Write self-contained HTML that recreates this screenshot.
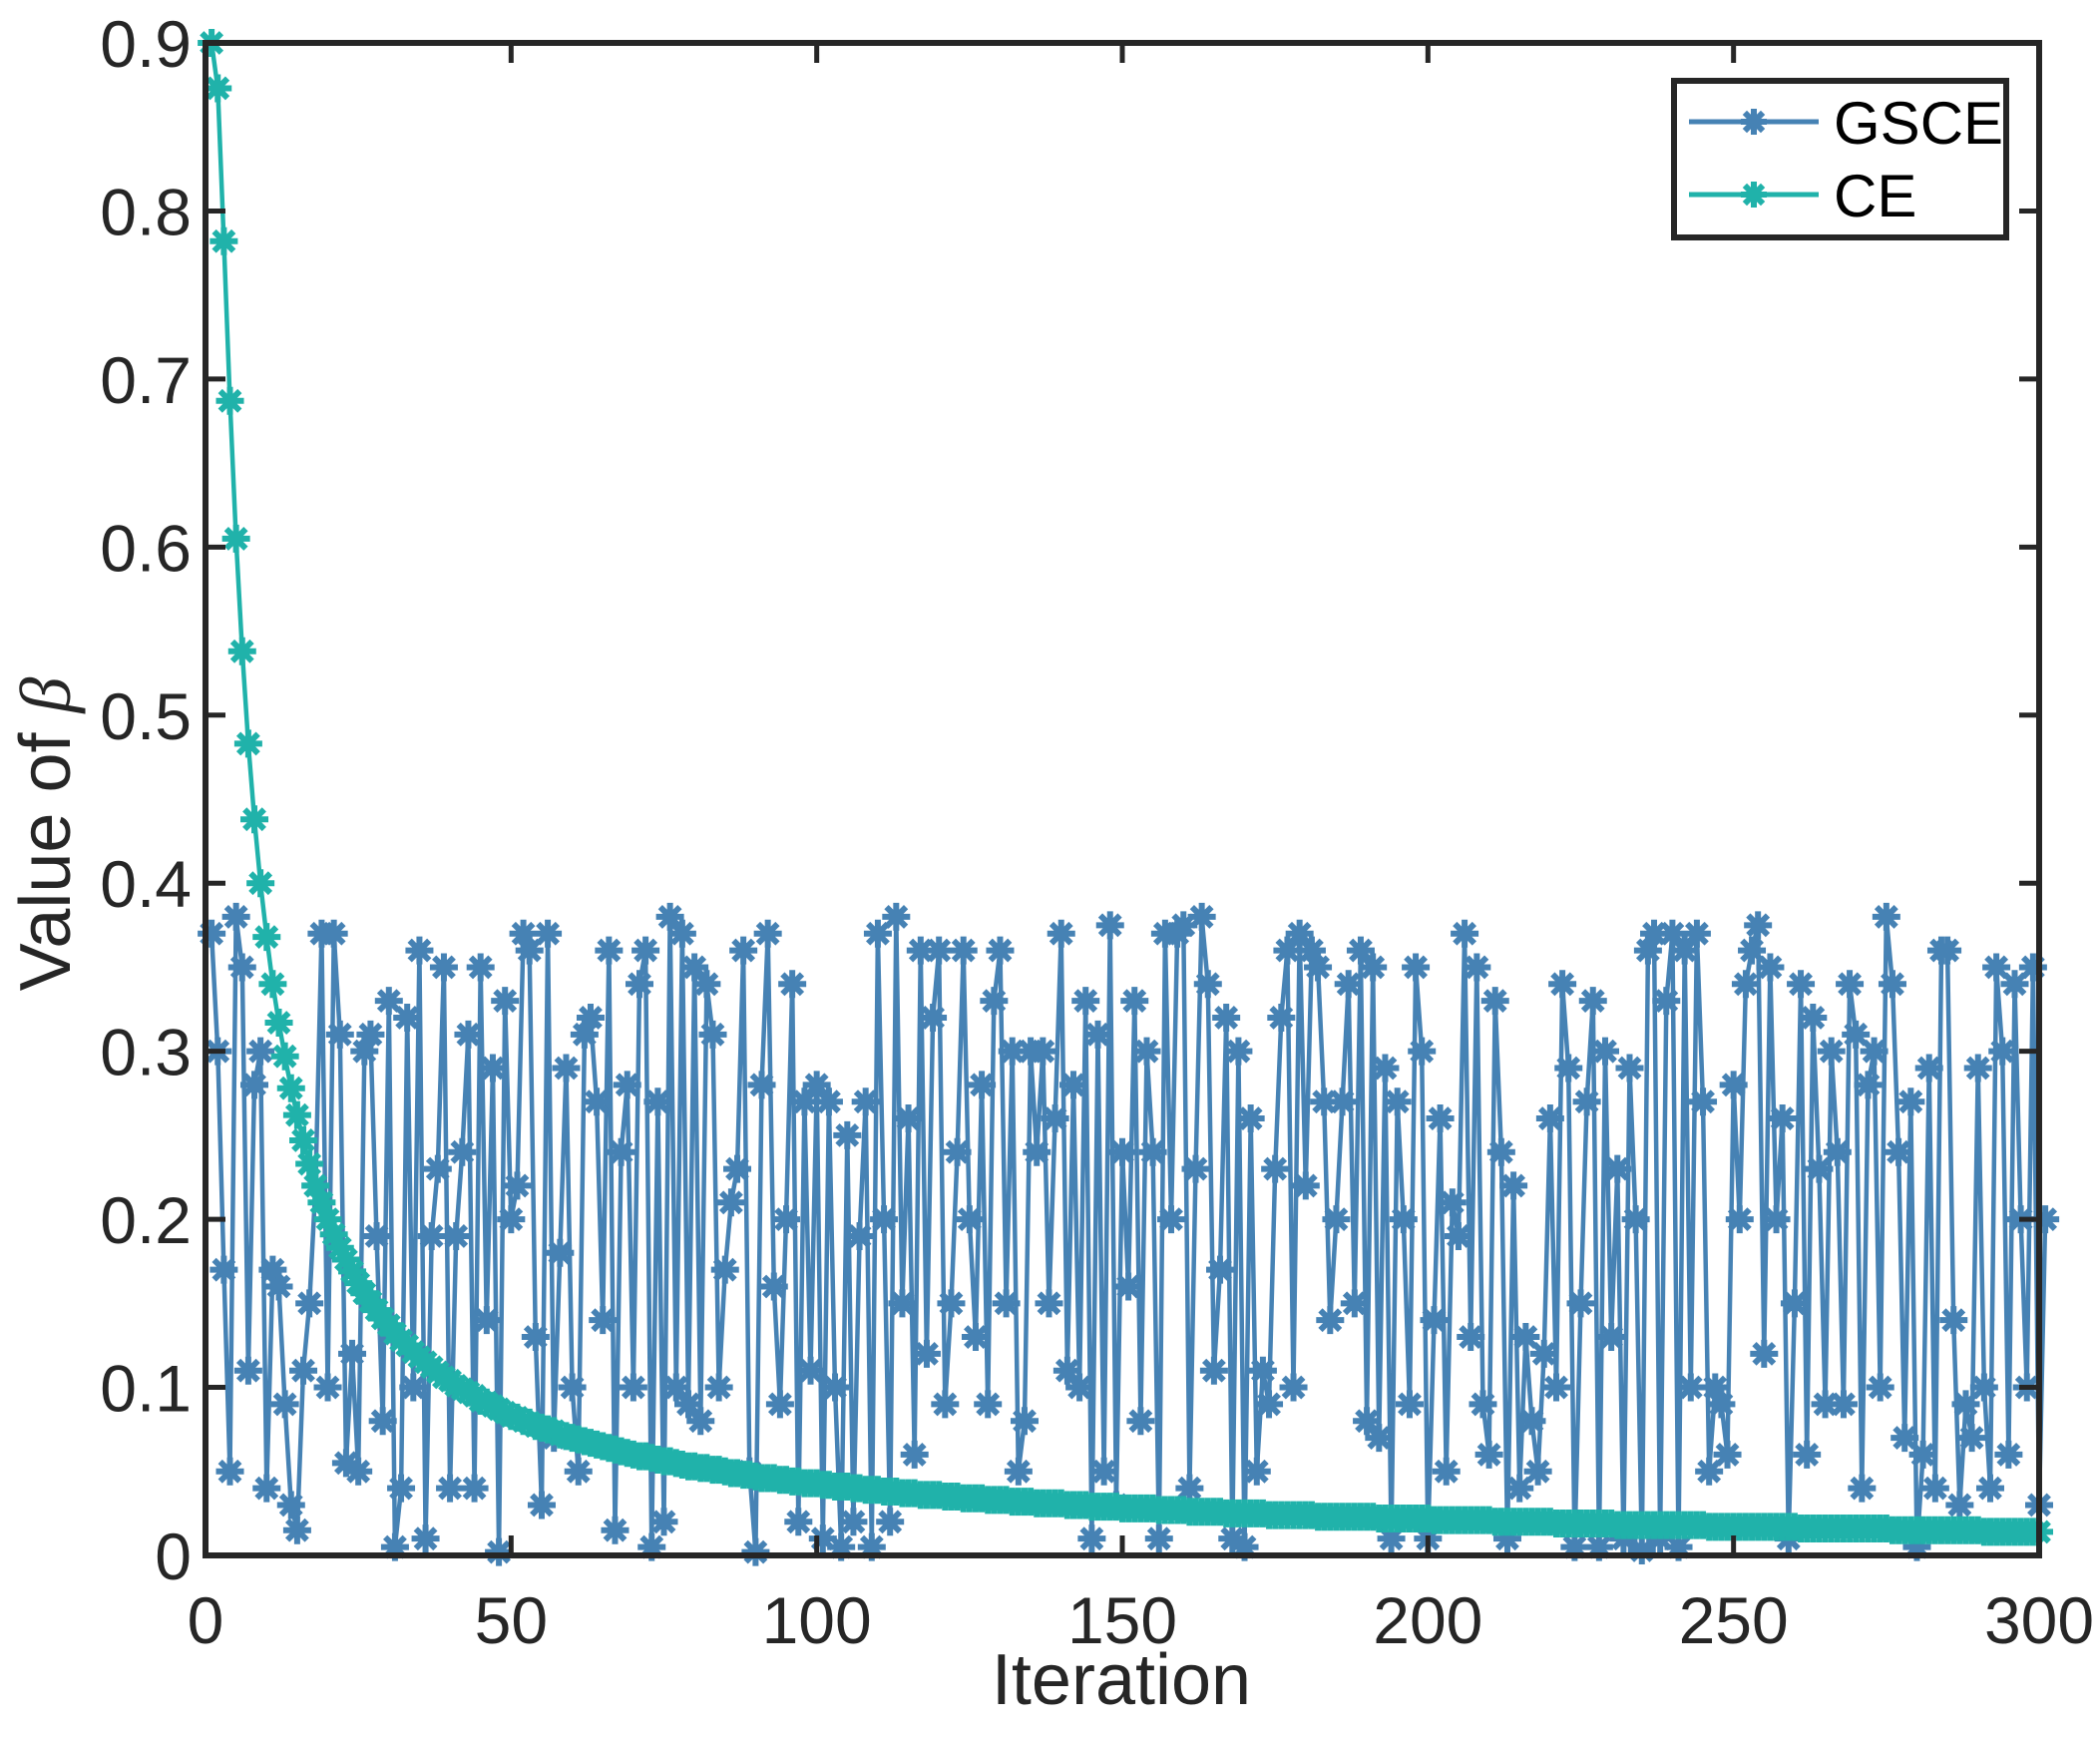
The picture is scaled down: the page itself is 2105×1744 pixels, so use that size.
<!DOCTYPE html>
<html><head><meta charset="utf-8"><style>
html,body{margin:0;padding:0;background:#fff;}
svg{display:block;font-family:"Liberation Sans",Arial,sans-serif;}
</style></head><body>
<svg id="chart" width="2105" height="1744" viewBox="0 0 2105 1744">
<rect x="0" y="0" width="2105" height="1744" fill="#fff"/>
<g id="plot"></g>
<g id="axes"></g>
<text x="1124" y="1708" font-size="72" text-anchor="middle" fill="#262626">Iteration</text>
<text transform="translate(70,836) rotate(-90)" font-size="72" text-anchor="middle" fill="#262626">Value of <tspan font-style="italic" font-family="Liberation Serif, serif">β</tspan></text>
<g id="legend">
<rect x="1678" y="81" width="333" height="157" fill="#fff" stroke="#262626" stroke-width="6"/>
<line x1="1693" y1="122" x2="1823" y2="122" stroke="#4682B4" stroke-width="5"/>
<text x="1838" y="144" font-size="60" fill="#000">GSCE</text>
<line x1="1693" y1="195" x2="1823" y2="195" stroke="#20B2AA" stroke-width="5"/>
<text x="1838" y="217" font-size="60" fill="#000">CE</text>
</g>
</svg>
<script>
const xTicks=[0,50,100,150,200,250,300];
const yTicks=[0,0.1,0.2,0.3,0.4,0.5,0.6,0.7,0.8,0.9];
const yTickLabels=["0","0.1","0.2","0.3","0.4","0.5","0.6","0.7","0.8","0.9"];
const ceValues=[0.9,0.873,0.782,0.687,0.605,0.538,0.483,0.438,0.400,0.368,0.340,0.317,0.297,0.278,0.262,0.247,0.233,0.220,0.210,0.200,
0.191,0.183,0.176,0.169,0.162,0.156,0.151,0.146,0.141,0.137,0.132,0.128,0.125,0.121,0.118,0.115,0.112,0.109,0.106,0.104,
0.101,0.099,0.097,0.095,0.092,0.091,0.089,0.087,0.085,0.083,0.082,0.080,0.079,0.077,0.076,0.075,0.074,0.072,0.071,0.070,
0.069,0.068,0.067,0.066,0.065,0.064,0.063,0.062,0.061,0.060,0.059,0.059,0.058,0.057,0.056,0.056,0.055,0.054,0.053,0.053,
0.052,0.052,0.051,0.051,0.050,0.049,0.049,0.048,0.048,0.047,0.046,0.046,0.046,0.045,0.045,0.044,0.044,0.043,0.043,0.043,
0.042,0.042,0.041,0.041,0.041,0.040,0.040,0.039,0.039,0.039,0.038,0.038,0.038,0.037,0.037,0.037,0.036,0.036,0.036,0.036,
0.035,0.035,0.035,0.034,0.034,0.034,0.034,0.033,0.033,0.033,0.033,0.032,0.032,0.032,0.032,0.031,0.031,0.031,0.031,0.031,
0.030,0.030,0.030,0.030,0.029,0.029,0.029,0.029,0.029,0.028,0.028,0.028,0.028,0.028,0.028,0.027,0.027,0.027,0.027,0.027,
0.026,0.026,0.026,0.026,0.026,0.026,0.025,0.025,0.025,0.025,0.025,0.025,0.025,0.024,0.024,0.024,0.024,0.024,0.024,0.024,
0.024,0.023,0.023,0.023,0.023,0.023,0.023,0.023,0.023,0.023,0.023,0.022,0.022,0.022,0.022,0.022,0.022,0.022,0.022,0.022,
0.021,0.021,0.021,0.021,0.021,0.021,0.021,0.021,0.021,0.021,0.020,0.020,0.020,0.020,0.020,0.020,0.020,0.020,0.020,0.020,
0.019,0.019,0.019,0.019,0.019,0.019,0.019,0.019,0.019,0.019,0.018,0.018,0.018,0.018,0.018,0.018,0.018,0.018,0.018,0.018,
0.018,0.018,0.018,0.018,0.018,0.017,0.017,0.017,0.017,0.017,0.017,0.017,0.017,0.017,0.017,0.017,0.017,0.017,0.017,0.017,
0.016,0.016,0.016,0.016,0.016,0.016,0.016,0.016,0.016,0.016,0.016,0.016,0.016,0.016,0.016,0.015,0.015,0.015,0.015,0.015,
0.015,0.015,0.015,0.015,0.015,0.015,0.015,0.015,0.015,0.015,0.014,0.014,0.014,0.014,0.014,0.014,0.014,0.014,0.014,0.014];
const gsceValues=[0.37,0.30,0.17,0.05,0.38,0.35,0.11,0.28,0.30,0.04,0.17,0.16,0.09,0.03,0.015,0.11,0.15,0.22,0.37,0.10,
0.37,0.31,0.055,0.12,0.05,0.30,0.31,0.19,0.08,0.33,0.005,0.04,0.32,0.10,0.36,0.01,0.19,0.23,0.35,0.04,
0.19,0.24,0.31,0.04,0.35,0.14,0.29,0.002,0.33,0.20,0.22,0.37,0.36,0.13,0.03,0.37,0.07,0.18,0.29,0.10,
0.05,0.31,0.32,0.27,0.14,0.36,0.015,0.24,0.28,0.10,0.34,0.36,0.005,0.27,0.02,0.38,0.10,0.37,0.09,0.35,
0.08,0.34,0.31,0.10,0.17,0.21,0.23,0.36,0.05,0.002,0.28,0.37,0.16,0.09,0.20,0.34,0.02,0.27,0.11,0.28,
0.01,0.27,0.10,0.005,0.25,0.02,0.19,0.27,0.005,0.37,0.20,0.02,0.38,0.15,0.26,0.06,0.36,0.12,0.32,0.36,
0.09,0.15,0.24,0.36,0.20,0.13,0.28,0.09,0.33,0.36,0.15,0.30,0.05,0.08,0.30,0.24,0.30,0.15,0.26,0.37,
0.11,0.28,0.10,0.33,0.01,0.31,0.05,0.375,0.03,0.24,0.16,0.33,0.08,0.30,0.24,0.01,0.37,0.20,0.37,0.375,
0.04,0.23,0.38,0.34,0.11,0.17,0.32,0.01,0.30,0.005,0.26,0.05,0.11,0.09,0.23,0.32,0.36,0.10,0.37,0.22,
0.36,0.35,0.27,0.14,0.20,0.27,0.34,0.15,0.36,0.08,0.35,0.07,0.29,0.01,0.27,0.20,0.09,0.35,0.30,0.01,
0.14,0.26,0.05,0.21,0.19,0.37,0.13,0.35,0.09,0.06,0.33,0.24,0.01,0.22,0.04,0.13,0.08,0.05,0.12,0.26,
0.10,0.34,0.29,0.005,0.15,0.27,0.33,0.005,0.30,0.13,0.23,0.01,0.29,0.20,0.003,0.36,0.37,0.01,0.33,0.37,
0.005,0.36,0.10,0.37,0.27,0.05,0.10,0.09,0.06,0.28,0.20,0.34,0.36,0.375,0.12,0.35,0.20,0.26,0.01,0.15,
0.34,0.06,0.32,0.23,0.09,0.30,0.24,0.09,0.34,0.31,0.04,0.28,0.30,0.10,0.38,0.34,0.24,0.07,0.27,0.005,
0.06,0.29,0.04,0.36,0.36,0.14,0.03,0.09,0.07,0.29,0.10,0.04,0.35,0.30,0.06,0.34,0.20,0.10,0.35,0.03,0.20];
const X0=206,X1=2044,Y0=1559,Y1=43,XMAX=300,YMAX=0.9;
function sx(v){return X0+(X1-X0)*v/XMAX;}
function sy(v){return Y0-(Y0-Y1)*v/YMAX;}
const NS="http://www.w3.org/2000/svg";
function mk(tag,attrs,parent){const e=document.createElementNS(NS,tag);for(const k in attrs)e.setAttribute(k,attrs[k]);parent.appendChild(e);return e;}
const plot=document.getElementById('plot'),axes=document.getElementById('axes');
function star(x,y,r){const d=r*0.7;return `M${x-r},${y}H${x+r}M${x},${y-r}V${y+r}M${x-d},${y-d}L${x+d},${y+d}M${x-d},${y+d}L${x+d},${y-d}`;}
function series(vals,color,name){
  let pts=vals.map((v,i)=>sx(i+1).toFixed(1)+","+sy(v).toFixed(1)).join(" ");
  const pl=mk('polyline',{points:pts,fill:'none',stroke:color,'stroke-width':4.5,'stroke-linejoin':'round'},plot);
  
  
  let d="";vals.forEach((v,i)=>{d+=star(sx(i+1),sy(v),14);});
  const m=mk('path',{d:d,stroke:color,'stroke-width':6,fill:'none'},plot);
  
  
}
series(gsceValues,'#4682B4','gsce-series');
series(ceValues,'#20B2AA','ce-series');
const lg=document.getElementById('legend');
const lm1=mk('path',{d:star(1758,122,13),stroke:'#4682B4','stroke-width':6,fill:'none'},lg);


const lm2=mk('path',{d:star(1758,195,13),stroke:'#20B2AA','stroke-width':6,fill:'none'},lg);


const fr=mk('rect',{x:X0,y:Y1,width:X1-X0,height:Y0-Y1,fill:'none',stroke:'#262626','stroke-width':6},axes);


const TL=20;
xTicks.forEach(t=>{
  const x=sx(t);
  const tk=mk('path',{d:`M${x},${Y0}V${Y0-TL}M${x},${Y1}V${Y1+TL}`,stroke:'#262626','stroke-width':5},axes);
  
  
  const lb=mk('text',{x:x,y:1647,'font-size':66,'text-anchor':'middle',fill:'#262626'},axes);
  lb.textContent=String(t);
  
  
});
yTicks.forEach((t,i)=>{
  const y=sy(t);
  const tk=mk('path',{d:`M${X0},${y}H${X0+TL}M${X1},${y}H${X1-TL}`,stroke:'#262626','stroke-width':5},axes);
  
  
  const lb=mk('text',{x:192,y:y+24,'font-size':66,'text-anchor':'end',fill:'#262626'},axes);
  lb.textContent=yTickLabels[i];
  
  
});
</script>
</body></html>
